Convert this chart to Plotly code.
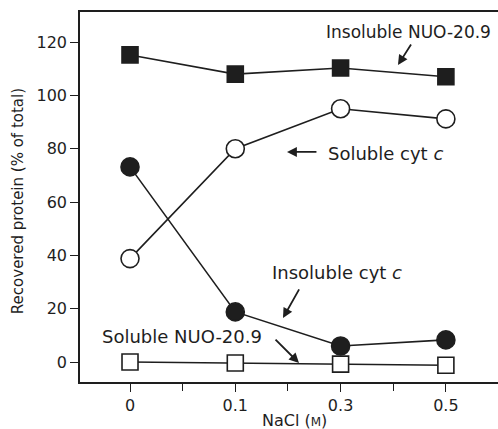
import plotly.graph_objects as go

# ---- data ----
nacl_labels = ["0", "0.1", "0.3", "0.5"]
nacl_pos = [0, 1, 2, 3]
insoluble_nuo = [115.2, 108.0, 110.3, 107.0]
soluble_cytc = [38.8, 80.0, 95.0, 91.2]
insoluble_cytc = [73.2, 18.8, 6.0, 8.3]
soluble_nuo = [0.0, -0.4, -0.8, -1.2]

LINE = "#1e1e1e"
FONT = "DejaVu Sans"

fig = go.Figure()

def add(y, symbol, fill, size):
    fig.add_trace(go.Scatter(
        x=nacl_pos, y=y, mode="lines+markers",
        line=dict(color=LINE, width=1.6),
        marker=dict(symbol=symbol, size=size, color=fill,
                    line=dict(color=LINE, width=1.6)),
        showlegend=False, cliponaxis=False))

add(insoluble_nuo, "square", LINE, 16)
add(soluble_cytc, "circle", "white", 18)
add(insoluble_cytc, "circle", LINE, 18)
add(soluble_nuo, "square", "white", 16)

# text labels: (text, x, y, size)
labels = [
    ("Insoluble NUO-20.9", 1.84, 123.8, 17),
    ("Soluble cyt <i>c</i>", 1.861, 78.4, 18),
    ("Insoluble cyt <i>c</i>", 1.33, 33.4, 18),
    ("Soluble NUO-20.9", -0.285, 9.4, 18),
]
for t, x, y, s in labels:
    fig.add_annotation(x=x, y=y, xref="x", yref="y", text=t, showarrow=False,
                       xanchor="left", yanchor="middle",
                       font=dict(family=FONT, size=s, color=LINE))

# arrows: (head x, head y, tail x, tail y)
arrows = [
    (2.545, 111.4, 2.678, 119.7),
    (1.491, 78.8, 1.785, 78.8),
    (1.453, 16.5, 1.614, 27.8),
    (1.605, -0.4, 1.368, 9.0),
]
for hx, hy, tx, ty in arrows:
    fig.add_annotation(x=hx, y=hy, ax=tx, ay=ty, xref="x", yref="y",
                       axref="x", ayref="y", text="", showarrow=True,
                       arrowhead=2, arrowsize=1.1, arrowwidth=1.8,
                       arrowcolor=LINE, standoff=0, startstandoff=0)

# x-axis title placed below tick labels
fig.add_annotation(x=1.56, y=0, xref="x", yref="paper", yshift=-38,
                   text="NaCl (<span style='font-size:12px'>M</span>)",
                   showarrow=False, yanchor="middle",
                   font=dict(family=FONT, size=16, color=LINE))

# y-axis title
fig.add_annotation(x=-0.148, y=60.4, xref="paper", yref="y",
                   text="Recovered protein (% of total)", textangle=-90,
                   showarrow=False, xanchor="center", yanchor="middle",
                   font=dict(family=FONT, size=15, color=LINE))

fig.update_layout(
    width=498, height=429,
    margin=dict(l=80, r=0, t=12, b=47, autoexpand=False),
    paper_bgcolor="white", plot_bgcolor="white",
    font=dict(family=FONT, size=16, color=LINE),
    xaxis=dict(
        range=[-0.475, 3.495], tickmode="array", tickvals=nacl_pos,
        ticktext=nacl_labels, ticks="outside", ticklen=8, tickwidth=1.4,
        tickcolor=LINE, showline=True, linecolor=LINE, linewidth=1.6,
        mirror=True, showgrid=False, zeroline=False, automargin=False,
        minor=dict(tickmode="array", tickvals=[0.5, 1.5, 2.5], ticks="outside",
                   ticklen=7, tickwidth=1.4, tickcolor=LINE, showgrid=False),
        tickfont=dict(family=FONT, size=16),
    ),
    yaxis=dict(
        range=[-7.5, 131.3], tickmode="array", tickvals=[0, 20, 40, 60, 80, 100, 120],
        ticks="outside", ticklen=8, tickwidth=1.4, tickcolor=LINE,
        showline=True, linecolor=LINE, linewidth=1.6, showgrid=False,
        zeroline=False, automargin=False,
        tickfont=dict(family=FONT, size=16),
    ),
)

fig.write_html("out.html", config={"displayModeBar": False},
               post_script="document.body.style.margin='0px';document.body.style.overflow='hidden';")
